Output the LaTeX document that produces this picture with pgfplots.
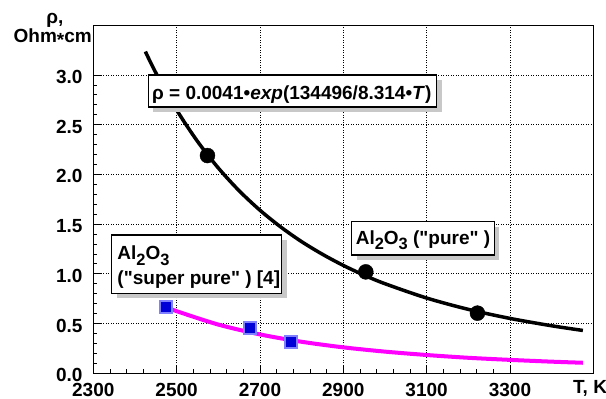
\documentclass[border=0pt]{standalone}
\usepackage{fontspec}
\setmainfont{Liberation Sans}[Ligatures=TeXOff]
\usepackage{pgfplots}
\pgfplotsset{compat=1.18}
\definecolor{shadowgray}{RGB}{200,200,200}
\definecolor{sqfill}{RGB}{0,0,215}
\definecolor{sqedge}{RGB}{128,128,255}
\definecolor{mag}{RGB}{255,0,255}
\newcommand{\bigf}{\fontsize{19}{21}\selectfont\bfseries}
\newcommand{\sub}[1]{\raisebox{-0.28em}{\fontsize{16.4}{17}\selectfont #1}}
\begin{document}
\begin{tikzpicture}
\begin{axis}[
 at={(0,0)}, anchor=south west,
 scale only axis, width=500pt, height=348pt,
 xmin=2300, xmax=3500, ymin=0, ymax=3.5,
 xtick={2300,2500,2700,2900,3100,3300},
 ytick={0,0.5,1,1.5,2,2.5,3},
 minor x tick num=4, minor y tick num=4,
 tick pos=left, tick align=inside,
 major tick length=8pt, minor tick length=4pt,
 every tick/.append style={black, line width=0.9pt},
 axis line style={line width=1.2pt},
 grid=major,
 major grid style={black, line width=0.8pt, dash pattern=on 1pt off 1.5pt},
 /pgf/number format/assume math mode=true,
 xticklabel style={font=\bigf, inner sep=0pt, yshift=-9.5pt, /pgf/number format/1000 sep={}},
 yticklabel style={font=\bigf, inner sep=0pt, xshift=-10.6pt, yshift=-2pt,
   /pgf/number format/fixed, /pgf/number format/fixed zerofill, /pgf/number format/precision=1},
]
\addplot[only marks, mark=*, mark size=7.5pt, black] coordinates {(2574,2.19)(2954,1.02)(3222,0.605)};
\addplot[black, line width=3.5pt, no marks, smooth] coordinates {
(2425,3.236)(2450,3.023)(2500,2.649)(2550,2.333)(2600,2.065)(2650,1.836)(2700,1.640)(2750,1.471)(2800,1.324)(2850,1.197)(2900,1.085)(2950,0.987)(3000,0.901)(3100,0.757)(3200,0.643)(3300,0.552)(3400,0.478)(3475,0.431)};
\addplot[only marks, mark=square*, mark size=6pt, mark options={fill=sqfill, draw=sqedge, line width=2pt}] coordinates {(2474,0.662)(2676,0.451)(2774,0.311)};
\addplot[mag, line width=4pt, no marks, smooth] coordinates {
(2474,0.668)(2500,0.625)(2600,0.490)(2700,0.391)(2800,0.317)(2900,0.261)(3000,0.218)(3100,0.184)(3200,0.156)(3300,0.135)(3400,0.117)(3475,0.106)};
\end{axis}
\begin{scope}[x=1pt,y=1pt]
% formula box
\fill[shadowgray] (60,261.3) rectangle (348.4,293.3);
\draw[fill=white, line width=1.2pt] (55,266.3) rectangle (343.4,298.3);
\node[anchor=base, font=\bigf, inner sep=0pt] at (198.5,274) {ρ = 0.0041•\textit{exp}(134496/8.314•\textit{T})};
% pure box
\fill[shadowgray] (263.4,113.3) rectangle (406,146.6);
\draw[fill=white, line width=1.2pt] (258.4,118.3) rectangle (401,151.6);
\node[anchor=base, font=\bigf, inner sep=0pt] at (329.7,129) {Al\sub{2}O\sub{3} ("pure"\ )};
% super pure box
\fill[shadowgray] (23.4,75) rectangle (193.4,133.3);
\draw[fill=white, line width=1.2pt] (18.4,80) rectangle (188.4,138.3);
\node[anchor=base west, font=\bigf, inner sep=0pt] at (24,113.3) {Al\sub{2}O\sub{3}};
\node[anchor=base west, font=\bigf, inner sep=0pt] at (24,88.3) {("super pure"\ ) [4]};
% axis labels
\node[anchor=base, font=\bigf, inner sep=0pt] at (-38.3,349.3) {ρ,};
\node[anchor=base east, font=\bigf, inner sep=0pt] at (-1.3,330.6) {Ohm\raisebox{-0.22em}{*}cm};
\node[anchor=base west, font=\bigf, inner sep=0pt] at (479.7,-20.7) {T, K};
\pgfresetboundingbox
\useasboundingbox (-93.3,-25.7) rectangle (512.7,373.3);
\end{scope}
\end{tikzpicture}
\end{document}
